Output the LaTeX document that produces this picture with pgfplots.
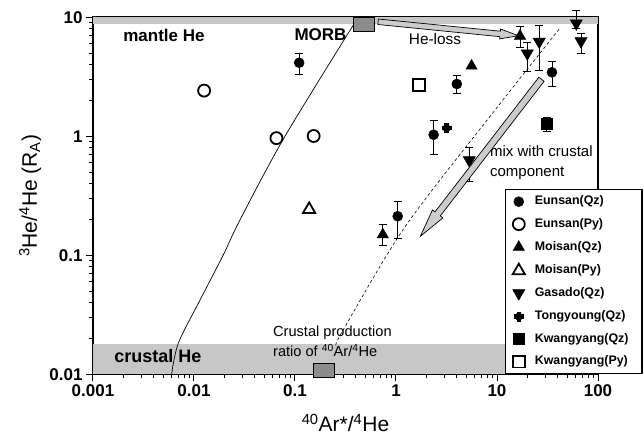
\documentclass[border=0pt]{standalone}
\usepackage{fontspec}
\setmainfont{Liberation Sans}
\usepackage{pgfplots}
\pgfplotsset{compat=1.18}
\usetikzlibrary{calc,shapes.arrows}

\pgfdeclareplotmark{thickplus}{%
 \pgfsetlinewidth{4.4bp}\pgfsetbuttcap
 \pgfpathmoveto{\pgfqpoint{-\pgfplotmarksize}{0pt}}\pgfpathlineto{\pgfqpoint{\pgfplotmarksize}{0pt}}%
 \pgfpathmoveto{\pgfqpoint{0pt}{-\pgfplotmarksize}}\pgfpathlineto{\pgfqpoint{0pt}{\pgfplotmarksize}}%
 \pgfusepathqstroke
 \pgfpathcircle{\pgfpointorigin}{0.8\pgfplotmarksize}\pgfusepathqfill}

\tikzset{
 heloss/.style={single arrow, draw=black, fill=black!20, line width=0.7bp, inner xsep=0pt, inner ysep=2.4bp,
   single arrow head extend=2.2bp, single arrow tip angle=30, single arrow head indent=0pt},
 mixarr/.style={single arrow, draw=black, fill=black!20, line width=0.7bp, inner xsep=0pt, inner ysep=3bp,
   single arrow head extend=3.2bp, single arrow tip angle=26, single arrow head indent=0pt},
}

\begin{document}
\begin{tikzpicture}
\begin{axis}[
  name=ax, scale only axis, width=505bp, height=357bp,
  xmode=log, ymode=log, xmin=0.001, xmax=100, ymin=0.01, ymax=10,
  clip=false,
  axis line style={line width=1.6bp},
  xtick pos=left, ytick pos=left, tick align=outside,
  major tick length=7bp, minor tick length=4bp,
  tick style={black, line width=1bp},
  xtick={0.001,0.01,0.1,1,10,100}, xticklabels={0.001,0.01,0.1,1,10,100},
  ytick={0.01,0.1,1,10}, yticklabels={0.01,0.1,1,10},
  ticklabel style={font=\bfseries\fontsize{17bp}{20bp}\selectfont},
  /pgf/number format/assume math mode=true,
  xlabel={\textsuperscript{40}Ar*/\textsuperscript{4}He},
  ylabel={\textsuperscript{3}He/\textsuperscript{4}He (R\textsubscript{A})},
  x label style={at={(axis description cs:0.5,-0.1616)}, anchor=base, font=\fontsize{21bp}{24bp}\selectfont},
  y label style={at={(axis description cs:-0.1109,0.5)}, anchor=base, font=\fontsize{21bp}{24bp}\selectfont},
  legend image code/.code={\draw[mark repeat=2,mark phase=2,#1] plot coordinates {(-6bp,0bp)(0bp,0bp)(6bp,0bp)};},
  legend cell align=left,
  legend style={at={(0.816,0.519)}, anchor=north west, draw=black, line width=1.3bp, fill=white,
    font=\bfseries\fontsize{12.4bp}{14bp}\selectfont,
    inner xsep=7bp, inner ysep=6bp, row sep=10.5bp, column sep=10bp,
    nodes={inner sep=0pt, text height=9bp, text depth=3bp},
    /tikz/column 2/.style={nodes={text width=100bp}}},
  errb/.style={error bars/.cd, y dir=both, y explicit,
    error bar style={line width=0.8bp, black},
    error mark options={rotate=90, line width=0.8bp, black, mark size=4bp}},
]
% bands
\fill[black!22] (axis cs:0.001,8.7) rectangle (axis cs:100,10);
\fill[black!22] (axis cs:0.001,0.01) rectangle (axis cs:100,0.018);

% curves
\addplot[forget plot, black, line width=0.7bp, smooth, tension=0.5] coordinates {
 (0.0060,0.010) (0.0070,0.0183) (0.01146,0.042) (0.0195,0.1007) (0.0285,0.198) (0.0778,0.968) (0.378,8.61)};
\addplot[forget plot, black, line width=0.6bp, dash pattern=on 3bp off 2.5bp, smooth, tension=0.5] coordinates {
 (0.255,0.0176) (0.30,0.0236) (1.23,0.174) (9.55,1.66) (42,8.1)};

% text
\node[inner sep=0pt, font=\bfseries\fontsize{17bp}{20bp}\selectfont] at (rel axis cs:0.1406,0.9504) {mantle He};
\node[inner sep=0pt, font=\bfseries\fontsize{17bp}{20bp}\selectfont, anchor=east] at (rel axis cs:0.5024,0.9504) {MORB};
\node[inner sep=0pt, font=\fontsize{15.4bp}{18bp}\selectfont] at (rel axis cs:0.6772,0.9384) {He-loss};
\node[inner sep=0pt, font=\fontsize{15bp}{20bp}\selectfont, align=left, anchor=west] at (rel axis cs:0.786,0.5919) {mix with crustal\\component};
\node[inner sep=0pt, font=\bfseries\fontsize{18bp}{20bp}\selectfont] at (rel axis cs:0.1287,0.0512) {crustal He};
\node[inner sep=0pt, font=\fontsize{14.6bp}{20bp}\selectfont, align=left, anchor=west] at (rel axis cs:0.3564,0.0913) {Crustal production\\ratio of \textsuperscript{40}Ar/\textsuperscript{4}He};

% reference squares
\addplot[forget plot, only marks, mark=square*, mark size=7bp, mark options={xscale=1.5, fill=black!45, draw=black, line width=1.3bp}] coordinates {(0.482,8.70) (0.194,0.01076)};

% data
\addplot[only marks, mark=*, mark size=5bp, mark options={black, fill=black, line width=0.5bp}, errb] table[x=x,y=y,y error plus=ep,y error minus=em] {
x y ep em
0.11 4.15 0.83 0.81
2.36 1.03 0.33 0.32
4.0 2.75 0.48 0.45
35 3.45 0.8 0.84
1.04 0.213 0.07 0.073
};
\addlegendentry{\bfseries\fontsize{12.4bp}{14bp}\selectfont Eunsan(Qz)}
\addplot[only marks, mark=o, mark size=6bp, mark options={black, line width=1.8bp}] coordinates {(0.0126,2.42) (0.0655,0.965) (0.153,1.006)};
\addlegendentry{\bfseries\fontsize{12.4bp}{14bp}\selectfont Eunsan(Py)}
\addplot[only marks, mark=triangle*, mark size=6.5bp, mark options={black, fill=black, line width=0.5bp}, errb] table[x=x,y=y,y error plus=ep,y error minus=em] {
x y ep em
5.6 3.9 0 0
16.9 6.96 1.38 1.36
0.74 0.149 0.032 0.028
};
\addlegendentry{\bfseries\fontsize{12.4bp}{14bp}\selectfont Moisan(Qz)}
\addplot[only marks, mark=triangle, mark size=7bp, mark options={black, line width=1.8bp}] coordinates {(0.138,0.243)};
\addlegendentry{\bfseries\fontsize{12.4bp}{14bp}\selectfont Moisan(Py)}
\addplot[only marks, mark=triangle*, mark size=7bp, mark options={black, fill=black, line width=0.5bp, rotate=180}, errb] table[x=x,y=y,y error plus=ep,y error minus=em] {
x y ep em
19.95 4.98 1.19 1.49
26.2 6.24 2.36 2.68
67.9 6.3 1.05 1.32
61 8.9 2.6 0.8
5.32 0.63 0.18 0.21
};
\addlegendentry{\bfseries\fontsize{12.4bp}{14bp}\selectfont Gasado(Qz)}
\addplot[only marks, mark=thickplus, mark size=5bp, mark options={black, fill=black}] coordinates {(3.17,1.17)};
\addlegendentry{\bfseries\fontsize{12.4bp}{14bp}\selectfont Tongyoung(Qz)}
\addplot[only marks, mark=square*, mark size=5.5bp, mark options={black, fill=black, line width=0.5bp}, errb] table[x=x,y=y,y error plus=ep,y error minus=em] {
x y ep em
31 1.27 0.17 0.18
};
\addlegendentry{\bfseries\fontsize{12.4bp}{14bp}\selectfont Kwangyang(Qz)}
\addplot[only marks, mark=square, mark size=5.8bp, mark options={black, line width=1.9bp}] coordinates {(1.69,2.7)};
\addlegendentry{\bfseries\fontsize{12.4bp}{14bp}\selectfont Kwangyang(Py)}

\coordinate (hlt) at (axis cs:0.66,9.18);
\coordinate (hlh) at (axis cs:16.2,7.0);
\coordinate (mxt) at (axis cs:27.7,3.03);
\coordinate (mxh) at (axis cs:1.75,0.145);
\coordinate (bbsw) at (rel axis cs:0,0);
\coordinate (bbne) at (rel axis cs:1,1);
\end{axis}
\path let \p1=(hlt), \p2=(hlh), \n1={atan2(\y2-\y1,\x2-\x1)}, \n2={veclen(\x2-\x1,\y2-\y1)} in
  node[heloss, minimum height=\n2, rotate=\n1, anchor=tail] at (\p1) {};
\path let \p1=(mxt), \p2=(mxh), \n1={atan2(\y2-\y1,\x2-\x1)}, \n2={veclen(\x2-\x1,\y2-\y1)} in
  node[mixarr, minimum height=\n2, rotate=\n1, anchor=tail] at (\p1) {};
\pgfresetboundingbox
\path[use as bounding box] ([xshift=-93bp,yshift=-64.7bp]bbsw) rectangle ([xshift=46bp,yshift=17.3bp]bbne);
\end{tikzpicture}
\end{document}
